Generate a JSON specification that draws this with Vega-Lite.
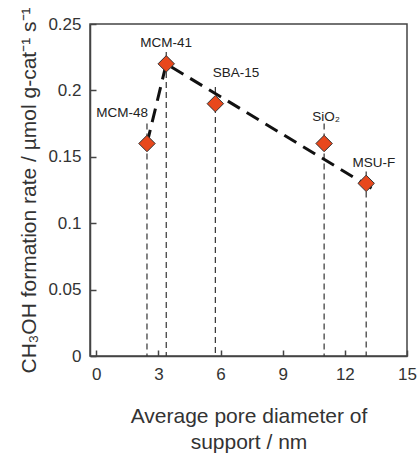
{
  "$schema": "https://vega.github.io/schema/vega-lite/v6.json",
  "autosize": "none",
  "width": 317,
  "height": 332,
  "padding": {"left": 90, "top": 24, "right": 11, "bottom": 100},
  "background": "white",
  "config": {
    "font": "Liberation Sans",
    "view": {"stroke": "#444", "strokeWidth": 1.5},
    "axis": {"domainColor": "#444", "domainWidth": 1.5, "tickColor": "#444", "tickWidth": 1.5, "grid": false, "labelColor": "#333", "titleColor": "#333", "labelFontSize": 17, "titleFontSize": 21, "titleFontWeight": "normal", "labelFont": "Liberation Sans", "titleFont": "Liberation Sans"}
  },
  "datasets": {
    "pts": [
      {"name": "MCM-48", "x": 2.45, "y": 0.16, "top": 0.175, "lx": 1.25, "ly": 0.183},
      {"name": "MCM-41", "x": 3.38, "y": 0.22, "top": 0.229, "lx": 3.38, "ly": 0.236},
      {"name": "SBA-15", "x": 5.75, "y": 0.19, "top": 0.2025, "lx": 6.75, "ly": 0.213},
      {"name": "SiO₂", "x": 11.0, "y": 0.16, "top": 0.175, "lx": 11.1, "ly": 0.18},
      {"name": "MSU-F", "x": 13.03, "y": 0.13, "top": 0.139, "lx": 13.4, "ly": 0.145}
    ],
    "trend": [
      {"x": 2.45, "y": 0.16, "o": 1},
      {"x": 3.38, "y": 0.22, "o": 2},
      {"x": 13.6, "y": 0.1235, "o": 3}
    ]
  },
  "layer": [
    {
      "data": {"name": "pts"},
      "mark": {"type": "rule", "strokeDash": [6, 4], "strokeWidth": 1.2, "color": "#333"},
      "encoding": {
        "x": {"field": "x", "type": "quantitative", "scale": {"domain": [-0.3, 15], "nice": false, "zero": false},
          "axis": {"values": [0, 1.5, 3, 4.5, 6, 7.5, 9, 10.5, 12, 13.5, 15], "tickSize": -6, "labelPadding": 16, "labelExpr": "round(datum.value*10) % 30 === 0 ? format(datum.value, 'd') : ''", "labelFlush": false, "title": ["Average pore diameter of", "support / nm"], "titlePadding": 23, "titleLineHeight": 26}},
        "y": {"field": "top", "type": "quantitative", "scale": {"domain": [0, 0.25], "nice": false},
          "axis": {"values": [0, 0.025, 0.05, 0.075, 0.1, 0.125, 0.15, 0.175, 0.2, 0.225, 0.25], "tickSize": -6, "labelPadding": 15, "labelExpr": "round(datum.value*1000) % 50 === 0 ? format(datum.value, '~g') : ''", "title": "CH₃OH formation rate / µmol g-cat⁻¹ s⁻¹", "titlePadding": 8}},
        "y2": {"datum": 0}
      }
    },
    {
      "data": {"name": "trend"},
      "mark": {"type": "line", "strokeDash": [14, 8], "strokeWidth": 3, "color": "#111"},
      "encoding": {
        "x": {"field": "x", "type": "quantitative"},
        "y": {"field": "y", "type": "quantitative"},
        "order": {"field": "o"}
      }
    },
    {
      "data": {"name": "pts"},
      "mark": {"type": "point", "shape": "diamond", "filled": true, "size": 270, "fill": "#E8481C", "stroke": "#333", "strokeWidth": 1, "opacity": 1},
      "encoding": {
        "x": {"field": "x", "type": "quantitative"},
        "y": {"field": "y", "type": "quantitative"}
      }
    },
    {
      "data": {"name": "pts"},
      "mark": {"type": "text", "fontSize": 13.5, "color": "#222", "font": "Liberation Sans"},
      "encoding": {
        "x": {"field": "lx", "type": "quantitative"},
        "y": {"field": "ly", "type": "quantitative"},
        "text": {"field": "name"}
      }
    }
  ]
}
